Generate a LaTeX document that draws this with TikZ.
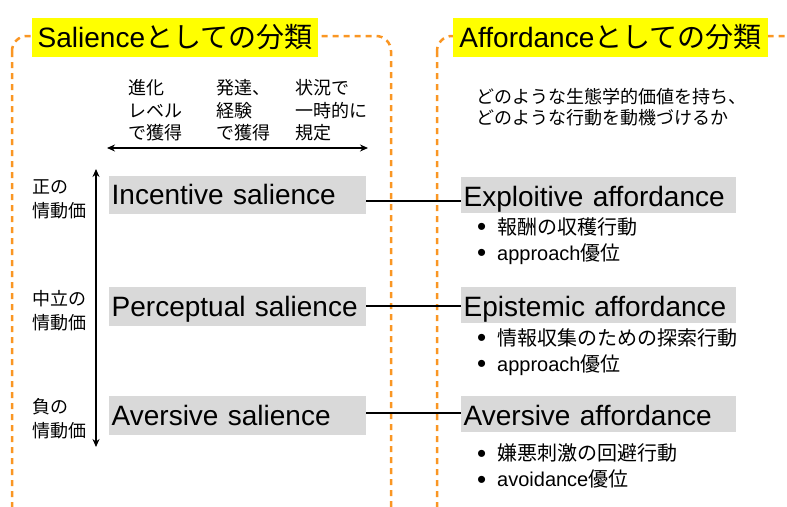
\documentclass[tikz,border=0pt]{standalone}
\usepackage{fontspec}
\setmainfont{Liberation Sans}
\newfontfamily\jp{Noto Sans CJK JP}
\usetikzlibrary{arrows.meta}
\definecolor{dashorange}{RGB}{250,150,35}
\definecolor{boxgray}{RGB}{217,217,217}
\definecolor{titleyellow}{RGB}{255,255,0}
\newcommand{\bul}{\makebox[20pt][l]{\raisebox{-1.5pt}{\fontsize{26}{26}\selectfont\textbullet}}}
\begin{document}
\begin{tikzpicture}[x=1pt,y=-1pt,
  dashbox/.style={draw=dashorange,line width=2.5pt,dash pattern=on 6pt off 5pt,rounded corners=15pt},
  titlebox/.style={fill=titleyellow,inner sep=0pt,minimum height=39pt,font=\fontsize{28}{32}\selectfont},
  salbox/.style={fill=boxgray,anchor=west,text width=252pt,inner xsep=2.5pt,inner ysep=0pt,minimum height=38pt,align=left,text height=19.5pt,text depth=0pt,font=\fontsize{28}{32}\selectfont},
  affbox/.style={fill=boxgray,anchor=west,text width=270pt,inner xsep=2.5pt,inner ysep=0pt,minimum height=36pt,align=left,text height=22pt,text depth=0pt,font=\fontsize{28}{32}\selectfont},
  jplabel/.style={anchor=west,inner sep=0pt,align=left,font=\jp\fontsize{18}{24}\selectfont},
  header/.style={anchor=west,inner sep=0pt,align=left,font=\jp\fontsize{18}{22.5}\selectfont},
  bullets/.style={anchor=west,inner sep=0pt,align=left,font=\fontsize{20}{26}\selectfont},
  link/.style={draw=black,line width=1.5pt},
  dblarrow/.style={draw=black,line width=1.4pt,{Stealth[length=8pt,width=7pt]}-{Stealth[length=8pt,width=7pt]}}
]
\useasboundingbox (0,0) rectangle (787,506);
\begin{scope}
  \clip (0,0) rectangle (787,506);
  \draw[dashbox] (12,36) rectangle (391,525);
  \draw[dashbox] (437,36) rectangle (810,525);
\end{scope}

% titles
\node[titlebox,minimum width=286pt] (t1) at (175,37.5) {Salience{\jp としての分類}};
\node[titlebox,minimum width=315pt] (t2) at (610.5,37.5) {Affordance{\jp としての分類}};

% subtitle
\node[header,font=\jp\fontsize{18}{21}\selectfont] (sub) at (476,107.5) {どのような生態学的価値を持ち、\\どのような行動を動機づけるか};

% column headers
\node[header] (h1) at (128,110.5) {進化\\レベル\\で獲得};
\node[header] (h2) at (216,110.5) {発達、\\経験\\で獲得};
\node[header] (h3) at (295,110.5) {状況で\\一時的に\\規定};
\coordinate (hl) at (107,148);
\coordinate (hr) at (368,148);
\draw[dblarrow] (hl) -- (hr);

% valence axis
\coordinate (vt) at (96,169);
\coordinate (vb) at (96,447);
\draw[dblarrow] (vt) -- (vb);
\node[jplabel] (l1) at (32,199.5) {正の\\情動価};
\node[jplabel] (l2) at (32,310.5) {中立の\\情動価};
\node[jplabel] (l3) at (32,418.5) {負の\\情動価};

% salience boxes
\node[salbox] (inc) at (109,195) {Incentive salience};
\node[salbox,minimum height=39pt] (per) at (109,306.5) {Perceptual salience};
\node[salbox,minimum height=39pt] (avs) at (109,415.5) {Aversive salience};

% affordance boxes
\node[affbox] (exp) at (461,195) {Exploitive affordance};
\node[affbox] (epi) at (461,305) {Epistemic affordance};
\node[affbox] (ava) at (461,414) {Aversive affordance};

% bullets
\node[bullets] (b1) at (477,241) {\bul{\jp 報酬の収穫行動}\\\bul approach{\jp 優位}};
\node[bullets] (b2) at (477,352) {\bul{\jp 情報収集のための探索行動}\\\bul approach{\jp 優位}};
\node[bullets] (b3) at (477,466) {\bul{\jp 嫌悪刺激の回避行動}\\\bul avoidance{\jp 優位}};

% connectors
\draw[link] ([yshift=-6pt]inc.east) -- ([yshift=-6pt]exp.west);
\draw[link] ([yshift=0.5pt]per.east) -- ([yshift=0.5pt]per.east -| epi.west);
\draw[link] ([yshift=2.5pt]avs.east) -- ([yshift=2.5pt]avs.east -| ava.west);
\end{tikzpicture}
\end{document}
